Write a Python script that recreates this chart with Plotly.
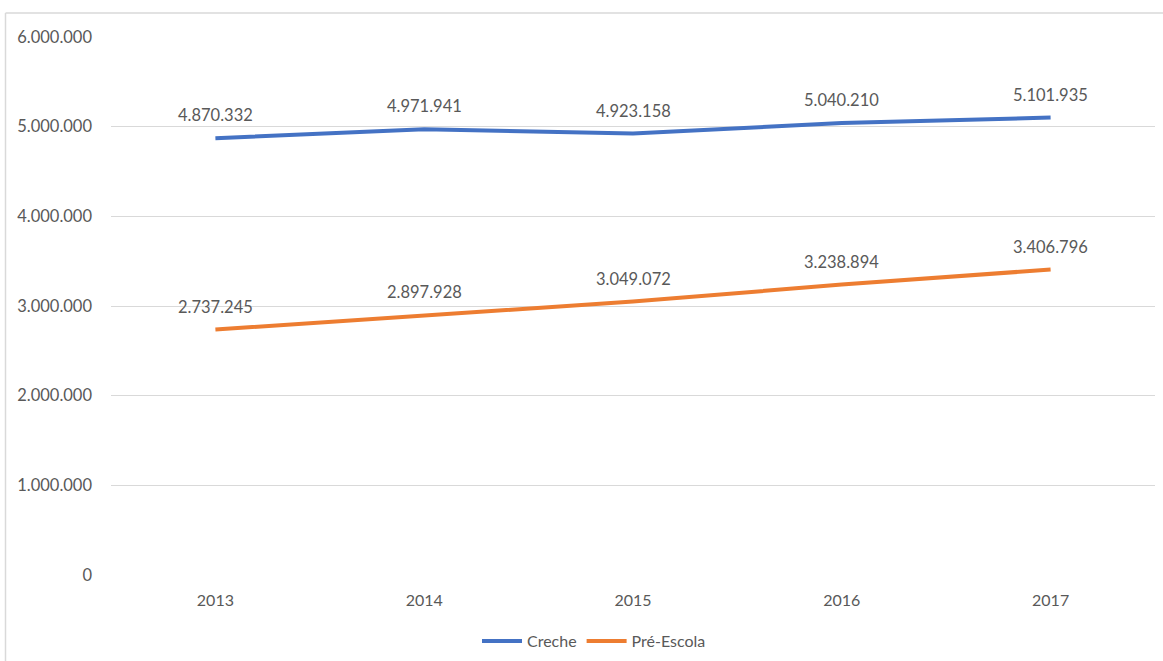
import plotly.graph_objects as go

anos = ["2013", "2014", "2015", "2016", "2017"]
creche = [4870332, 4971941, 4923158, 5040210, 5101935]
pre_escola = [2737245, 2897928, 3049072, 3238894, 3406796]

AZUL = "#4472C4"
LARANJA = "#ED7D31"
CINZA_TXT = "#595959"
FONTE = "Lato, 'Open Sans', sans-serif"


def fmt(v):
    return f"{v:,}".replace(",", ".")


fig = go.Figure()
fig.add_trace(go.Scatter(x=anos, y=creche, mode="lines", name="Creche",
                         line=dict(color=AZUL, width=4)))
fig.add_trace(go.Scatter(x=anos, y=pre_escola, mode="lines", name="Pré-Escola",
                         line=dict(color=LARANJA, width=4)))

# rótulos de dados acima de cada ponto (posição = índice da categoria)
anotacoes = []
for serie in (creche, pre_escola):
    for i, v in enumerate(serie):
        anotacoes.append(dict(x=i, y=v, text=fmt(v), showarrow=False,
                              yshift=23, xref="x", yref="y",
                              font=dict(size=16.5, color=CINZA_TXT, family=FONTE)))

W, H = 1163, 661
L, R, T, B = 111, 8, 37, 86
pw, ph = W - L - R, H - T - B


def px_x(p):
    return (p - L) / pw


def px_y(p):
    return (H - B - p) / ph


fig.update_layout(
    width=W, height=H,
    margin=dict(l=L, r=R, t=T, b=B, autoexpand=False),
    paper_bgcolor="white", plot_bgcolor="white",
    separators=",.",
    font=dict(family=FONTE, color=CINZA_TXT, size=16),
    showlegend=True,
    legend=dict(orientation="h", x=px_x(594), xanchor="center", y=px_y(641), yanchor="middle",
                font=dict(size=16, color=CINZA_TXT), itemwidth=40),
    annotations=anotacoes,
    shapes=[
        dict(type="line", xref="paper", yref="paper", x0=px_x(5.5), x1=px_x(5.5),
             y0=px_y(661), y1=px_y(13), line=dict(color="#d9d9d9", width=1.5)),
        dict(type="line", xref="paper", yref="paper", x0=px_x(5.5), x1=px_x(1163),
             y0=px_y(13), y1=px_y(13), line=dict(color="#d9d9d9", width=1.5)),
    ],
)
fig.update_xaxes(type="category", range=[-0.5, len(anos) - 0.5],
                 showgrid=False, zeroline=False, showline=False,
                 ticks="", ticklabelstandoff=14,
                 tickfont=dict(size=16, color=CINZA_TXT))
fig.update_yaxes(range=[0, 6000000], dtick=1000000, tickformat=",d",
                 showgrid=True, gridcolor="#d9d9d9", gridwidth=1,
                 zeroline=False, showline=False, ticks="", ticklabelstandoff=18,
                 tickfont=dict(size=16.5, color=CINZA_TXT))

fig.write_html("out.html")
